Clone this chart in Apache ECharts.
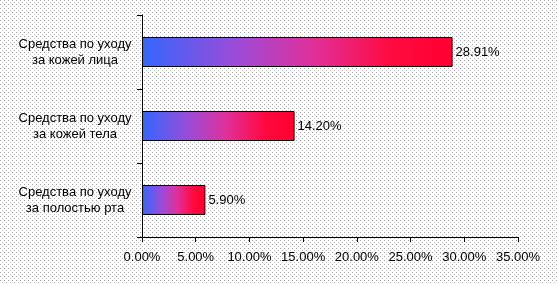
<!DOCTYPE html>
<html>
<head>
<meta charset="utf-8">
<script src="https://cdn.jsdelivr.net/npm/echarts@6/dist/echarts.min.js"></script>
<style>
html,body{margin:0;padding:0;background:#fff;}
#c{width:558px;height:284px;}
</style>
</head>
<body>
<div id="c"></div>
<script>
const categories = ['Средства по уходу\nза кожей лица', 'Средства по уходу\nза кожей тела', 'Средства по уходу\nза полостью рта'];
const values = [28.91, 14.20, 5.90];
const xTicks = [0, 5, 10, 15, 20, 25, 30, 35];

// dotted background pattern
const pc = document.createElement('canvas');
pc.width = 4; pc.height = 4;
const pctx = pc.getContext('2d');
pctx.fillStyle = '#ffffff'; pctx.fillRect(0,0,4,4);
pctx.fillStyle = '#a0a0a0'; pctx.fillRect(0,0,1,1);
pctx.fillStyle = '#c0c0c0'; pctx.fillRect(2,2,1,1);
document.getElementById('c').style.background = 'url(' + pc.toDataURL() + ') repeat';

const chart = echarts.init(document.getElementById('c'), null, {renderer: 'canvas'});
const font = 'Liberation Sans, Arial, sans-serif';
chart.setOption({
  backgroundColor: 'transparent',
  animation: false,
  grid: {left: 142, right: 40, top: 15, bottom: 47, containLabel: false},
  xAxis: {
    type: 'value',
    min: xTicks[0], max: xTicks[xTicks.length-1], interval: 5,
    axisLine: {show: true, lineStyle: {color: '#000', width: 1}},
    axisTick: {show: true, length: 5, lineStyle: {color: '#000'}},
    splitLine: {show: false},
    axisLabel: {color: '#000', fontSize: 13, fontFamily: font, margin: 14,
      formatter: v => v.toFixed(2) + '%'}
  },
  yAxis: {
    type: 'category',
    inverse: true,
    data: categories,
    axisLine: {show: true, lineStyle: {color: '#000', width: 1}},
    axisTick: {show: true, length: 5, lineStyle: {color: '#000'}},
    axisLabel: {color: '#000', fontSize: 13, fontFamily: font, align: 'center', margin: 67, lineHeight: 16}
  },
  series: [{
    type: 'bar',
    data: values,
    barWidth: 30,
    itemStyle: {
      borderColor: '#000', borderWidth: 1,
      color: new echarts.graphic.LinearGradient(0, 0, 1, 0, [
        {offset: 0, color: '#3366ff'},
        {offset: 0.3, color: '#9a4cd8'},
        {offset: 0.55, color: '#e0309a'},
        {offset: 0.8, color: '#ff0a40'},
        {offset: 1, color: '#ff0030'}
      ])
    },
    label: {show: true, position: 'right', distance: 3, color: '#000', fontSize: 13, fontFamily: font,
      formatter: p => p.value.toFixed(2) + '%'}
  }]
});
</script>
</body>
</html>
